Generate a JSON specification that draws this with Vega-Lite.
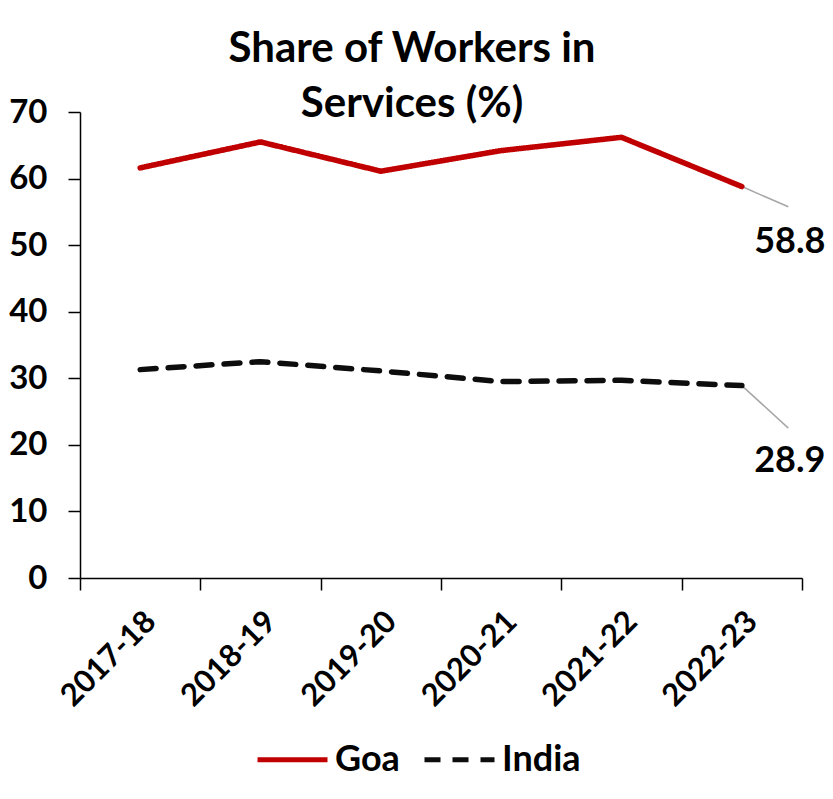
{
  "$schema": "https://vega.github.io/schema/vega-lite/v6.json",
  "width": 722,
  "height": 466,
  "autosize": {"type": "none"},
  "padding": {"left": 80, "top": 112, "right": 31, "bottom": 221},
  "background": "white",
  "config": {
    "font": "Lato",
    "view": {"stroke": null},
    "legend": {
      "orient": "none",
      "legendX": 175,
      "legendY": 610,
      "direction": "horizontal",
      "title": null,
      "symbolType": "stroke",
      "symbolSize": 4900,
      "symbolStrokeWidth": 5,
      "labelFontSize": 36,
      "labelFontWeight": "bold",
      "labelColor": "black",
      "labelFont": "Lato",
      "columnPadding": 14,
      "labelOffset": 5
    }
  },
  "title": {
    "text": ["Share of Workers in", "Services (%)"],
    "font": "Lato",
    "fontSize": 42,
    "fontWeight": "bold",
    "color": "black",
    "anchor": "middle",
    "frame": "group",
    "lineHeight": 55,
    "dx": -29,
    "dy": 30,
    "offset": 0
  },
  "data": {
    "values": [
      {"year": "2017-18", "series": "Goa", "value": 61.6},
      {"year": "2018-19", "series": "Goa", "value": 65.5},
      {"year": "2019-20", "series": "Goa", "value": 61.1},
      {"year": "2020-21", "series": "Goa", "value": 64.2},
      {"year": "2021-22", "series": "Goa", "value": 66.2},
      {"year": "2022-23", "series": "Goa", "value": 58.8},
      {"year": "2017-18", "series": "India", "value": 31.3},
      {"year": "2018-19", "series": "India", "value": 32.5},
      {"year": "2019-20", "series": "India", "value": 31.1},
      {"year": "2020-21", "series": "India", "value": 29.5},
      {"year": "2021-22", "series": "India", "value": 29.7},
      {"year": "2022-23", "series": "India", "value": 28.9}
    ]
  },
  "encoding": {
    "x": {
      "field": "year",
      "type": "ordinal",
      "scale": {"type": "band", "paddingInner": 0, "paddingOuter": 0},
      "axis": {
        "title": null,
        "tickBand": "extent",
        "domainColor": "black",
        "domainWidth": 1.5,
        "tickColor": "black",
        "tickWidth": 1.5,
        "tickSize": 12,
        "labelAngle": -45,
        "labelFontSize": 31,
        "labelFontWeight": "bold",
        "labelColor": "black",
        "labelPadding": 16
      }
    },
    "y": {
      "field": "value",
      "type": "quantitative",
      "scale": {"domain": [0, 70]},
      "axis": {
        "title": null,
        "values": [0, 10, 20, 30, 40, 50, 60, 70],
        "grid": false,
        "domainColor": "black",
        "domainWidth": 1.5,
        "tickColor": "black",
        "tickWidth": 1.5,
        "tickSize": 12,
        "labelFontSize": 33,
        "labelFontWeight": "bold",
        "labelColor": "black",
        "labelPadding": 21
      }
    }
  },
  "layer": [
    {
      "transform": [{"filter": "datum.year == '2022-23' && datum.series == 'Goa'"}],
      "mark": {"type": "point", "shape": "M0,0L1,0.435", "size": 8649, "filled": false, "stroke": "#a6a6a6", "strokeWidth": 1.5, "opacity": 1}
    },
    {
      "transform": [{"filter": "datum.year == '2022-23' && datum.series == 'India'"}],
      "mark": {"type": "point", "shape": "M0,0L1,0.915", "size": 8649, "filled": false, "stroke": "#a6a6a6", "strokeWidth": 1.5, "opacity": 1}
    },
    {
      "mark": {"type": "line", "strokeWidth": 5.5, "strokeCap": "round", "strokeJoin": "round"},
      "encoding": {
        "color": {
          "field": "series",
          "type": "nominal",
          "scale": {"domain": ["Goa", "India"], "range": ["#c00000", "#0d0d0d"]}
        },
        "strokeDash": {
          "field": "series",
          "type": "nominal",
          "scale": {"domain": ["Goa", "India"], "range": [[1, 0], [16, 12]]}
        }
      }
    },
    {
      "transform": [{"filter": "datum.year == '2022-23' && datum.series == 'Goa'"}],
      "mark": {"type": "text", "dx": 48, "dy": 55, "fontSize": 36, "fontWeight": "bold", "color": "black", "font": "Lato"},
      "encoding": {"text": {"field": "value", "type": "quantitative", "format": ".1f"}}
    },
    {
      "transform": [{"filter": "datum.year == '2022-23' && datum.series == 'India'"}],
      "mark": {"type": "text", "dx": 48, "dy": 75, "fontSize": 36, "fontWeight": "bold", "color": "black", "font": "Lato"},
      "encoding": {"text": {"field": "value", "type": "quantitative", "format": ".1f"}}
    }
  ]
}
